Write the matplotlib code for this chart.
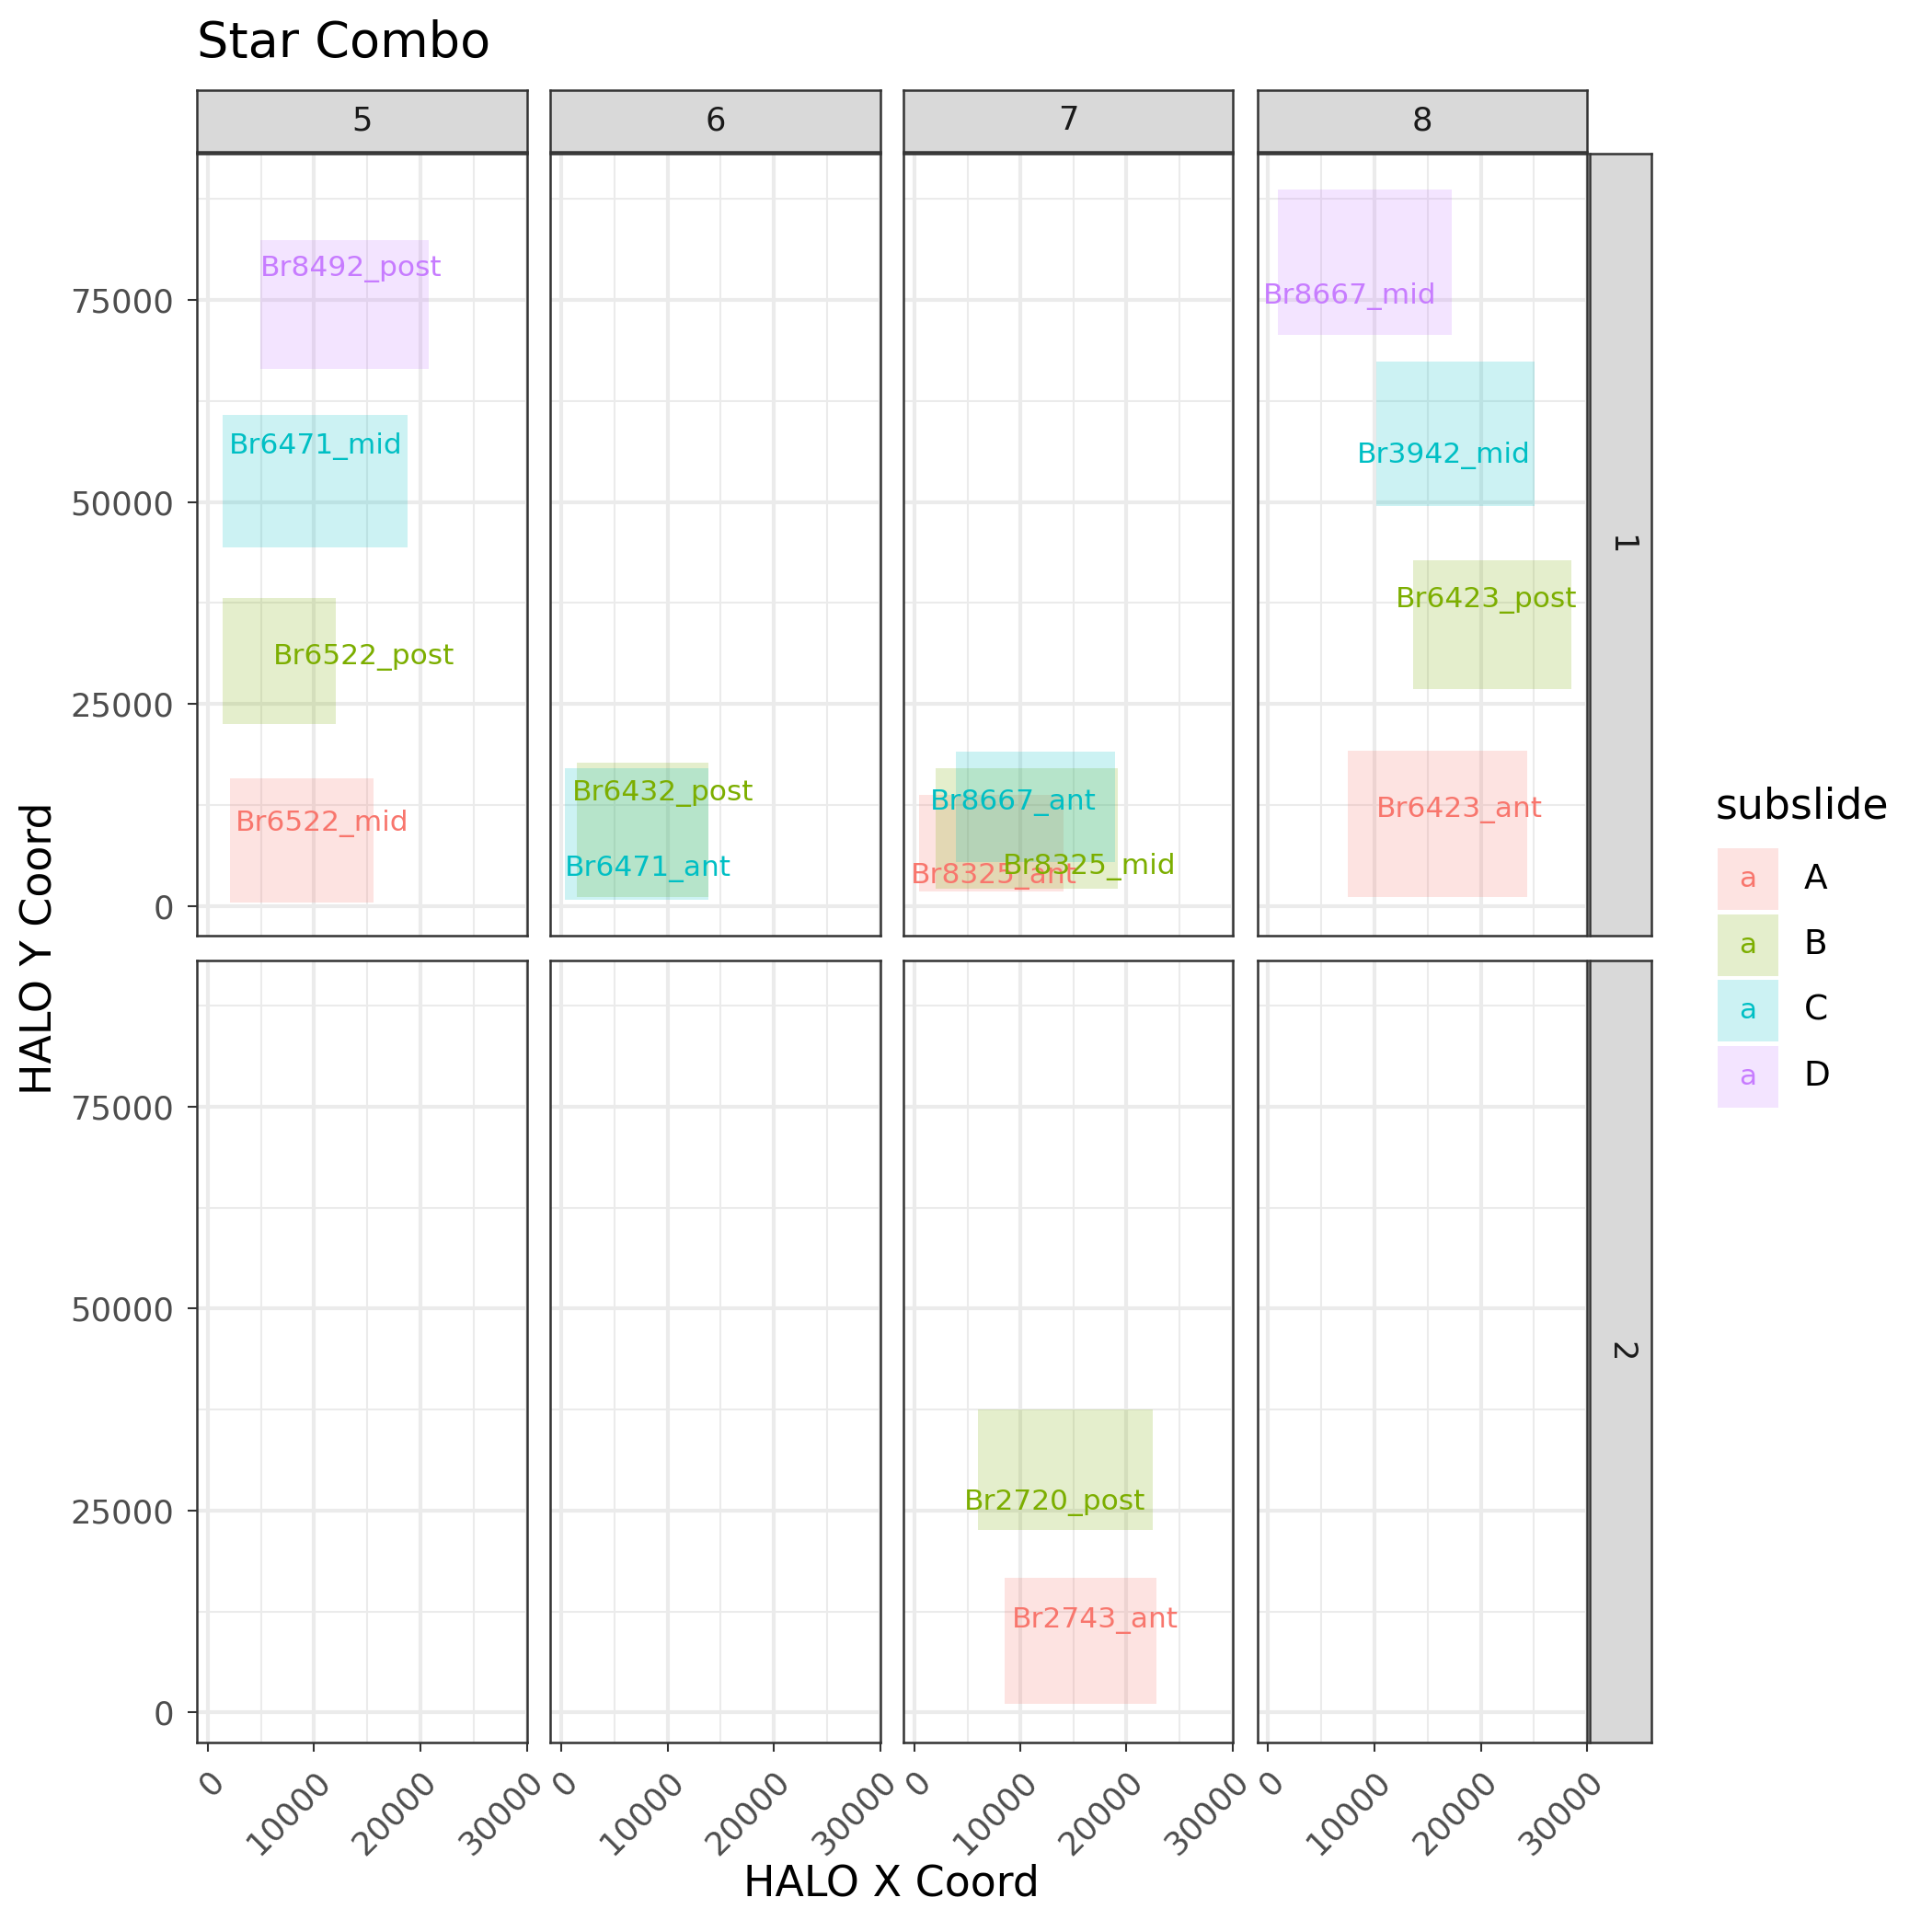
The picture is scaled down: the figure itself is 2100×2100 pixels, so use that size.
import matplotlib

matplotlib.use("Agg")

import matplotlib.pyplot as plt
from matplotlib.patches import Rectangle

# data: (slide, row, subslide, label, xmin, xmax, ymin, ymax, label_x, label_y)
slides = [5, 6, 7, 8]
rows = [1, 2]
subslides = ["A", "B", "C", "D"]
colors = {"A": "#F8766D", "B": "#7CAE00", "C": "#00BFC4", "D": "#C77CFF"}

rect_slide = [5, 5, 5, 5, 6, 6, 7, 7, 7, 7, 7, 8, 8, 8, 8]
rect_row = [1, 1, 1, 1, 1, 1, 1, 1, 1, 2, 2, 1, 1, 1, 1]
rect_sub = ["D", "C", "B", "A", "B", "C", "A", "B", "C", "B", "A", "D", "C", "B", "A"]
rect_name = ["Br8492_post", "Br6471_mid", "Br6522_post", "Br6522_mid",
             "Br6432_post", "Br6471_ant", "Br8325_ant", "Br8325_mid", "Br8667_ant",
             "Br2720_post", "Br2743_ant", "Br8667_mid", "Br3942_mid", "Br6423_post",
             "Br6423_ant"]
x_min = [4960, 1380, 1380, 2080, 1500, 350, 460, 1960, 3920, 6000, 8540, 920, 10150, 13610, 7500]
x_max = [20760, 18800, 12000, 15570, 13840, 13840, 14070, 19150, 18920, 22490, 22840, 17300, 25030, 28490, 24340]
y_min = [66460, 44360, 22560, 460, 1070, 760, 1830, 2130, 5490, 22560, 1070, 70730, 49540, 26830, 1070]
y_max = [82470, 60820, 38110, 15850, 17680, 17070, 13720, 17070, 19050, 37500, 16620, 88720, 67380, 42840, 19210]
lab_x = [13500, 10150, 14650, 10730, 9580, 8190, 7500, 16490, 9340, 13270, 17070, 7730, 16490, 20530, 17990]
lab_y = [78800, 56860, 30790, 10210, 13870, 4570, 3660, 4880, 12800, 25910, 11430, 75460, 55790, 37800, 11890]

S = 1569.0
panel_x = [(160, 428), (447, 715), (734, 1001), (1021, 1289)]
panel_y = [(125, 760), (780, 1415)]

fig = plt.figure(figsize=(7, 7), dpi=300)


def box(x0, x1, y0, y1):
    return [x0 / S, 1 - y1 / S, (x1 - x0) / S, (y1 - y0) / S]


for r, (py0, py1) in enumerate(panel_y):
    for c, (px0, px1) in enumerate(panel_x):
        ax = fig.add_axes(box(px0, px1, py0, py1))
        ax.set_xlim(-1000, 30000)
        ax.set_ylim(-3700, 93100)
        ax.set_xticks([0, 10000, 20000, 30000])
        ax.set_xticks([5000, 15000, 25000], minor=True)
        ax.set_yticks([0, 25000, 50000, 75000])
        ax.set_yticks([12500, 37500, 62500, 87500], minor=True)
        ax.grid(True, which="major", color="#EBEBEB", lw=1.0)
        ax.grid(True, which="minor", color="#EBEBEB", lw=0.5)
        ax.set_axisbelow(True)
        for sp in ax.spines.values():
            sp.set_color("#333333")
            sp.set_linewidth(0.6)
        ax.tick_params(which="minor", length=0)
        ax.tick_params(which="major", length=2.5, color="#333333", labelsize=8.5,
                       labelcolor="#4D4D4D", width=0.5)
        if r == 1:
            ax.set_xticklabels(["0", "10000", "20000", "30000"], rotation=45,
                               ha="right", rotation_mode="anchor")
        else:
            ax.tick_params(axis="x", which="major", length=0, labelbottom=False)
        if c != 0:
            ax.tick_params(axis="y", which="major", length=0, labelleft=False)
        for i in range(len(rect_name)):
            if rect_slide[i] == slides[c] and rect_row[i] == rows[r]:
                col = colors[rect_sub[i]]
                ax.add_patch(Rectangle((x_min[i], y_min[i]), x_max[i] - x_min[i],
                                       y_max[i] - y_min[i], color=col, alpha=0.2, lw=0))
                ax.text(lab_x[i], lab_y[i], rect_name[i], color=col, fontsize=7.5,
                        ha="center", va="center")
        if r == 0:
            sx = fig.add_axes(box(px0, px1, 73, 123))
            sx.set_facecolor("#D9D9D9")
            sx.set_xticks([])
            sx.set_yticks([])
            for sp in sx.spines.values():
                sp.set_color("#333333")
                sp.set_linewidth(0.6)
            sx.text(0.5, 0.5, str(slides[c]), ha="center", va="center",
                    fontsize=8.5, color="#1A1A1A", transform=sx.transAxes)
    sy = fig.add_axes(box(1291, 1341, py0, py1))
    sy.set_facecolor("#D9D9D9")
    sy.set_xticks([])
    sy.set_yticks([])
    for sp in sy.spines.values():
        sp.set_color("#333333")
        sp.set_linewidth(0.6)
    sy.text(0.5, 0.5, str(rows[r]), ha="center", va="center", rotation=-90,
            fontsize=8.5, color="#1A1A1A", transform=sy.transAxes)

fig.text(160 / S, 1 - 35 / S, "Star Combo", fontsize=13, va="center", ha="left")
fig.text(724 / S, 1 - 1530 / S, "HALO X Coord", fontsize=11, ha="center", va="center")
fig.text(32 / S, 1 - 770 / S, "HALO Y Coord", fontsize=11, ha="center", va="center",
         rotation=90)

# legend
fig.text(1393 / S, 1 - 655 / S, "subslide", fontsize=11, va="center", ha="left")
for k, s in enumerate(subslides):
    yc = 714 + k * 53.5
    lx = fig.add_axes(box(1395, 1444, yc - 25, yc + 25))
    lx.set_facecolor(colors[s])
    lx.patch.set_alpha(0.2)
    lx.set_xticks([])
    lx.set_yticks([])
    for sp in lx.spines.values():
        sp.set_visible(False)
    lx.text(0.5, 0.5, "a", color=colors[s], fontsize=7.5, ha="center", va="center",
            transform=lx.transAxes)
    fig.text(1465 / S, 1 - yc / S, s, fontsize=9, va="center", ha="left")

fig.savefig("out.png", dpi=300, facecolor="white")
